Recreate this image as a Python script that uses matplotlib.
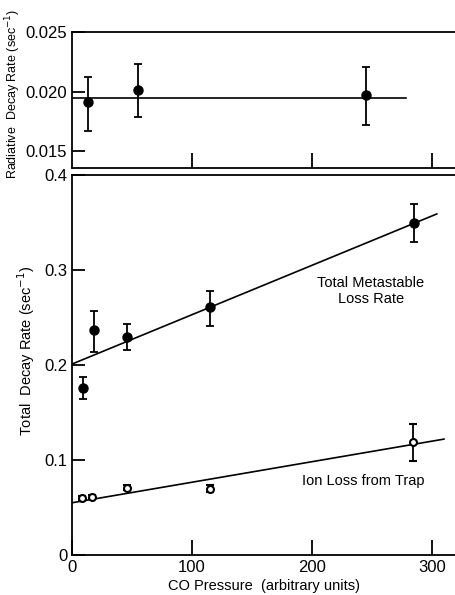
import matplotlib
matplotlib.use('Agg')
import matplotlib.pyplot as plt
import numpy as np

# radiative decay rate (top panel)
rad_x = [13, 55, 245]
rad_y = [0.0191, 0.0201, 0.0197]
rad_lo = [0.0167, 0.0179, 0.0172]
rad_hi = [0.0212, 0.0223, 0.0221]
rad_fit_x = [0, 278]
rad_fit_y = [0.01944, 0.01944]

# total metastable loss rate (filled points)
tot_x = [9, 18, 46, 115, 285]
tot_y = [0.176, 0.237, 0.230, 0.261, 0.349]
tot_lo = [0.164, 0.214, 0.216, 0.241, 0.329]
tot_hi = [0.187, 0.257, 0.243, 0.278, 0.369]
tot_fit_x = [0, 304]
tot_fit_y = [0.201, 0.359]

# ion loss from trap (open points)
ion_x = [8, 17, 46, 115, 284]
ion_y = [0.060, 0.061, 0.071, 0.070, 0.119]
ion_lo = [0.058, 0.059, 0.068, 0.066, 0.099]
ion_hi = [0.062, 0.063, 0.074, 0.074, 0.138]
ion_fit_x = [0, 310]
ion_fit_y = [0.055, 0.122]

x_ticks = [0, 100, 200, 300]

plt.rcParams['font.family'] = ['Liberation Sans', 'DejaVu Sans']


def style_axes(ax):
	for side in ['left', 'top', 'bottom']:
		ax.spines[side].set_linewidth(1.3)
	ax.spines['right'].set_visible(False)
	ax.tick_params(direction='in', length=9, width=1.3, labelsize=12)


fig = plt.figure(figsize=(4.56, 5.95), dpi=100)

ax1 = fig.add_axes([0.158, 0.7176, 0.842, 0.2286])
ax2 = fig.add_axes([0.158, 0.0672, 0.842, 0.6387])

ax1.errorbar(rad_x, rad_y,
	yerr=[np.subtract(rad_y, rad_lo), np.subtract(rad_hi, rad_y)],
	fmt='o', color='black', ms=6.5, capsize=3, elinewidth=1.3, capthick=1.3)
ax1.plot(rad_fit_x, rad_fit_y, color='black', lw=1.2)
ax1.set_xlim(0, 320)
ax1.set_ylim(0.01357, 0.025)
ax1.set_yticks([0.015, 0.020, 0.025])
ax1.set_yticklabels(['0.015', '0.020', '0.025'])
ax1.set_xticks(x_ticks[1:])
ax1.set_xticklabels([])
ax1.set_ylabel('Radiative  Decay Rate (sec$^{-1}$)', fontsize=9)
ax1.yaxis.set_label_coords(-0.128, 0.544)
style_axes(ax1)
ax1.tick_params(axis='x', length=11)

ax2.errorbar(tot_x, tot_y,
	yerr=[np.subtract(tot_y, tot_lo), np.subtract(tot_hi, tot_y)],
	fmt='o', color='black', ms=6.5, capsize=3, elinewidth=1.3, capthick=1.3)
ax2.plot(tot_fit_x, tot_fit_y, color='black', lw=1.2)
ax2.errorbar(ion_x, ion_y,
	yerr=[np.subtract(ion_y, ion_lo), np.subtract(ion_hi, ion_y)],
	fmt='o', color='black', mfc='white', ms=5, mew=1.5, capsize=3,
	elinewidth=1.3, capthick=1.3)
ax2.plot(ion_fit_x, ion_fit_y, color='black', lw=1.2)
ax2.text(249, 0.278, 'Total Metastable\nLoss Rate', ha='center', va='center', fontsize=10.5)
ax2.text(243, 0.078, 'Ion Loss from Trap', ha='center', va='center', fontsize=10.5)

ax2.set_xlim(0, 320)
ax2.set_ylim(0, 0.4)
ax2.set_xticks(x_ticks)
ax2.set_yticks([0, 0.1, 0.2, 0.3, 0.4])
ax2.set_yticklabels(['0', '0.1', '0.2', '0.3', '0.4'])
ax2.set_xlabel('CO Pressure  (arbitrary units)', fontsize=10.5, labelpad=3)
ax2.set_ylabel('Total  Decay Rate (sec$^{-1}$)', fontsize=10.5)
ax2.yaxis.set_label_coords(-0.091, 0.537)
style_axes(ax2)
ax2.tick_params(axis='x', length=11)

plt.savefig('out.png', dpi=100)
plt.close()
